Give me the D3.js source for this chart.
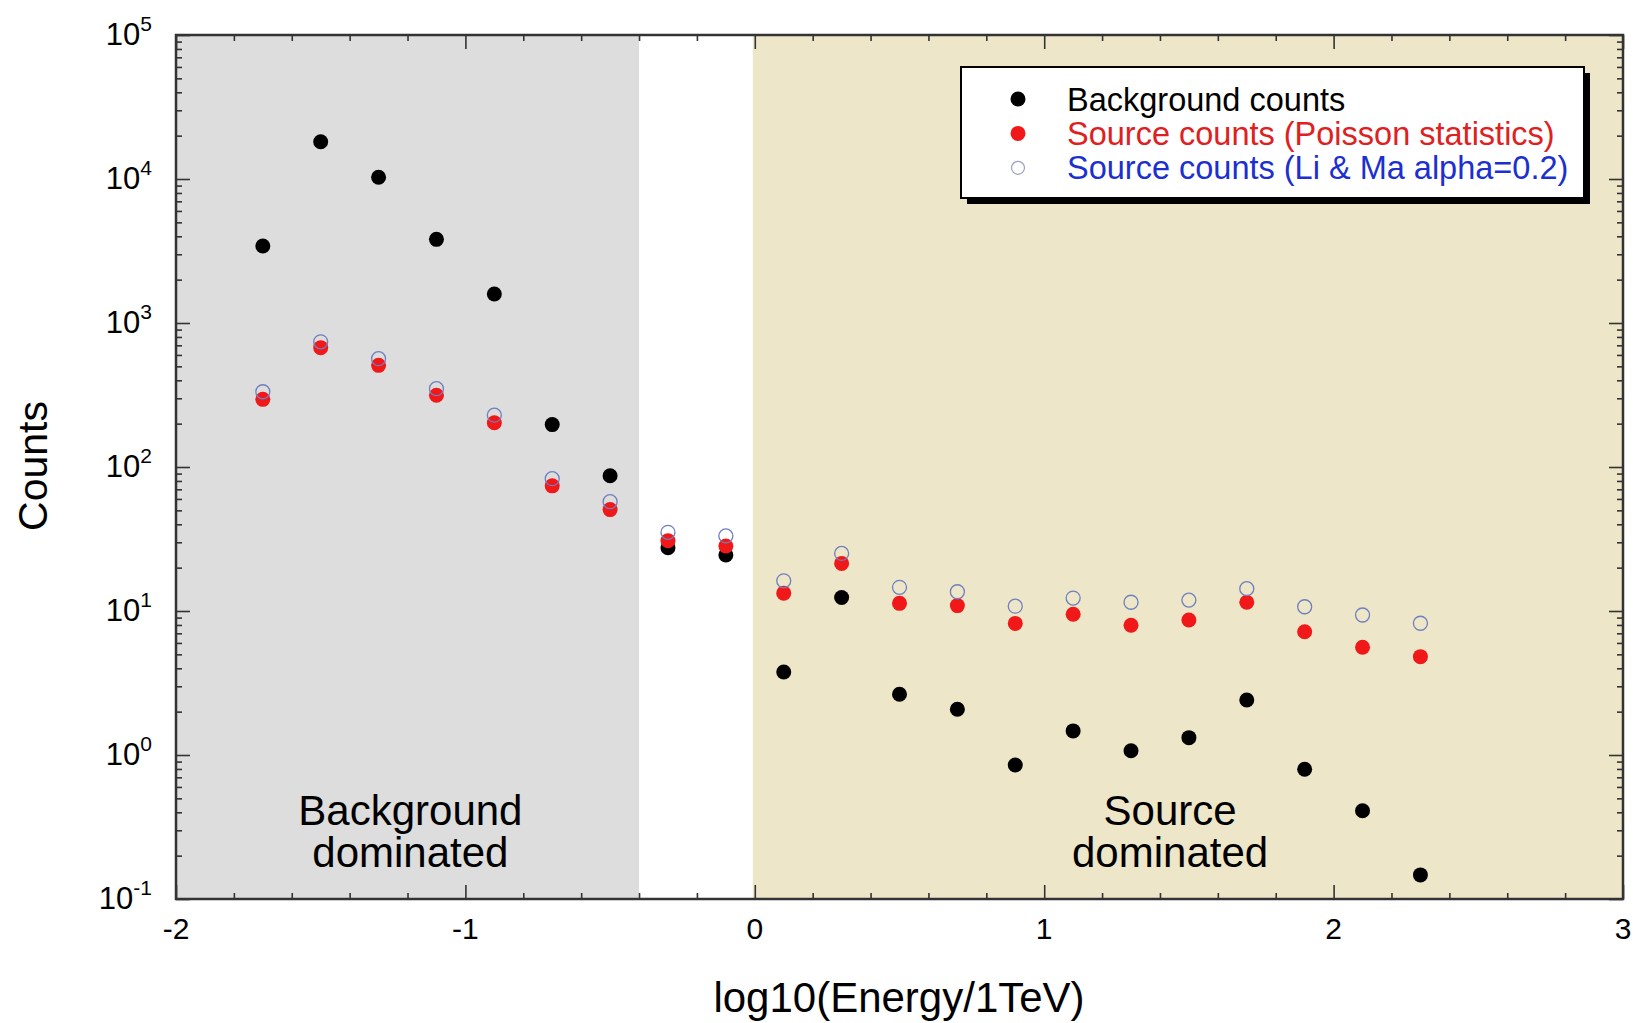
<!DOCTYPE html>
<html>
<head>
<meta charset="utf-8">
<script src="https://cdn.jsdelivr.net/npm/d3@7"></script>
<style>
  html, body { margin: 0; padding: 0; background: #ffffff; }
  svg { display: block; font-family: "Liberation Sans", Arial, Helvetica, sans-serif; }
</style>
</head>
<body>
<svg id="chart" width="1634" height="1023"></svg>
<script>
// ---------------- data ----------------
const energyBins = [-1.7, -1.5, -1.3, -1.1, -0.9, -0.7, -0.5, -0.3, -0.1, 0.1, 0.3, 0.5, 0.7, 0.9, 1.1, 1.3, 1.5, 1.7, 1.9, 2.1, 2.3];
const backgroundCounts = [3425, 18150, 10280, 3810, 1590, 197, 87, 27.5, 24.5, 3.77, 12.4, 2.64, 2.08, 0.853, 1.47, 1.07, 1.32, 2.41, 0.796, 0.41, 0.147];
const sourcePoisson = [295, 674, 508, 315, 203, 74, 50.6, 30.8, 28.3, 13.3, 21.4, 11.3, 10.9, 8.2, 9.5, 7.96, 8.66, 11.5, 7.18, 5.6, 4.82];
const sourceLiMa = [333, 740, 565, 350, 229, 83, 57.4, 35.2, 33.2, 16.2, 25.1, 14.6, 13.6, 10.8, 12.3, 11.5, 11.9, 14.3, 10.7, 9.38, 8.22];

const xTickLabels = [-2, -1, 0, 1, 2, 3];
const yDecadeExponents = [-1, 0, 1, 2, 3, 4, 5];

const regionBackground = [-2, -0.4];
const regionSource = [0, 3];
const regionTexts = [
  { x: -1.19, lines: ["Background", "dominated"] },
  { x: 1.435, lines: ["Source", "dominated"] }
];

const legendItems = [
  { label: "Background counts", kind: "bg" },
  { label: "Source counts (Poisson statistics)", kind: "poisson" },
  { label: "Source counts (Li & Ma alpha=0.2)", kind: "lima" }
];

// ---------------- layout ----------------
const L = 176, R = 1623, T = 35, B = 899;
const svg = d3.select("#chart");

const x = d3.scaleLinear().domain([-2, 3]).range([L, R]);
const y = d3.scaleLog().domain([0.1, 1e5]).range([B, T]);

const colors = {
  bg: "#000000",
  poisson: "#f01818",
  lima: "#6f7fbf",
  grayRegion: "#dcdddc",
  beigeRegion: "#ede6c8",
  axis: "#333333"
};

// regions
svg.append("rect")
  .attr("x", x(regionBackground[0])).attr("y", T)
  .attr("width", x(regionBackground[1]) - x(regionBackground[0]))
  .attr("height", B - T)
  .attr("fill", colors.grayRegion);
svg.append("rect")
  .attr("x", x(regionSource[0]) - 2).attr("y", T)
  .attr("width", x(regionSource[1]) - x(regionSource[0]) + 2)
  .attr("height", B - T)
  .attr("fill", colors.beigeRegion);

// region labels
regionTexts.forEach(rt => {
  rt.lines.forEach((ln, i) => {
    svg.append("text")
      .attr("x", x(rt.x)).attr("y", 825 + i * 41.5)
      .attr("text-anchor", "middle")
      .attr("font-size", 42)
      .attr("fill", "#000")
      .text(ln);
  });
});

// ---------------- axes ticks (inward) ----------------
const xMinor = d3.range(-2, 3.0001, 0.2).map(v => +v.toFixed(1)).filter(v => !xTickLabels.includes(v));
const yMinor = [];
yDecadeExponents.slice(0, -1).forEach(e => {
  for (let m = 2; m <= 9; m++) yMinor.push(m * Math.pow(10, e));
});
const yMajor = yDecadeExponents.map(e => Math.pow(10, e));

function styleAxis(g) {
  g.select(".domain").remove();
  g.selectAll(".tick line").attr("stroke", colors.axis).attr("stroke-width", 1.6);
  g.selectAll(".tick text").remove();
}

svg.append("g").attr("transform", `translate(0,${B})`)
  .call(d3.axisBottom(x).tickValues(xMinor).tickSize(-6).tickFormat("")).call(styleAxis);
svg.append("g").attr("transform", `translate(0,${B})`)
  .call(d3.axisBottom(x).tickValues(xTickLabels).tickSize(-14).tickFormat("")).call(styleAxis);
svg.append("g").attr("transform", `translate(0,${T})`)
  .call(d3.axisTop(x).tickValues(xMinor).tickSize(-6).tickFormat("")).call(styleAxis);
svg.append("g").attr("transform", `translate(0,${T})`)
  .call(d3.axisTop(x).tickValues(xTickLabels).tickSize(-14).tickFormat("")).call(styleAxis);

svg.append("g").attr("transform", `translate(${L},0)`)
  .call(d3.axisLeft(y).tickValues(yMinor).tickSize(-6).tickFormat("")).call(styleAxis);
svg.append("g").attr("transform", `translate(${L},0)`)
  .call(d3.axisLeft(y).tickValues(yMajor).tickSize(-14).tickFormat("")).call(styleAxis);
svg.append("g").attr("transform", `translate(${R},0)`)
  .call(d3.axisRight(y).tickValues(yMinor).tickSize(-6).tickFormat("")).call(styleAxis);
svg.append("g").attr("transform", `translate(${R},0)`)
  .call(d3.axisRight(y).tickValues(yMajor).tickSize(-14).tickFormat("")).call(styleAxis);

// frame
svg.append("rect")
  .attr("x", L).attr("y", T).attr("width", R - L).attr("height", B - T)
  .attr("fill", "none").attr("stroke", colors.axis).attr("stroke-width", 2.5);

// x tick labels
svg.append("g").selectAll("text").data(xTickLabels).join("text")
  .attr("x", d => x(d)).attr("y", 939)
  .attr("text-anchor", "middle").attr("font-size", 30).attr("fill", "#000")
  .text(d => d);

// y tick labels with superscript
const yl = svg.append("g").selectAll("text").data(yDecadeExponents).join("text")
  .attr("x", 152).attr("y", d => y(Math.pow(10, d)) + 10)
  .attr("text-anchor", "end").attr("font-size", 31).attr("fill", "#000");
yl.append("tspan").text("10");
yl.append("tspan").attr("dy", -14).attr("font-size", 21).text(d => d);

// axis titles
svg.append("text")
  .attr("x", 899).attr("y", 1012)
  .attr("text-anchor", "middle").attr("font-size", 42).attr("fill", "#000")
  .text("log10(Energy/1TeV)");
svg.append("text")
  .attr("transform", "translate(47,466) rotate(-90)")
  .attr("text-anchor", "middle").attr("font-size", 41).attr("fill", "#000")
  .text("Counts");

// ---------------- points ----------------
const rows = energyBins.map((e, i) => ({ e, bg: backgroundCounts[i], poisson: sourcePoisson[i], lima: sourceLiMa[i] }));

svg.append("g").selectAll("circle").data(rows).join("circle")
  .attr("cx", d => x(d.e)).attr("cy", d => y(d.bg)).attr("r", 7.5)
  .attr("fill", colors.bg);
svg.append("g").selectAll("circle").data(rows).join("circle")
  .attr("cx", d => x(d.e)).attr("cy", d => y(d.poisson)).attr("r", 7.5)
  .attr("fill", colors.poisson);
svg.append("g").selectAll("circle").data(rows).join("circle")
  .attr("cx", d => x(d.e)).attr("cy", d => y(d.lima)).attr("r", 7)
  .attr("fill", "none").attr("stroke", colors.lima).attr("stroke-width", 1.3);

// ---------------- legend ----------------
const lg = svg.append("g");
const lx = 961, ly = 67, lw = 623, lh = 131;
lg.append("rect").attr("x", lx + 6).attr("y", ly + 6).attr("width", lw).attr("height", lh).attr("fill", "#000");
lg.append("rect").attr("x", lx).attr("y", ly).attr("width", lw).attr("height", lh)
  .attr("fill", "#fff").attr("stroke", "#000").attr("stroke-width", 2);
const legendTextColors = { bg: "#000000", poisson: "#e0201e", lima: "#1c2fd0" };
legendItems.forEach((it, i) => {
  const cy = 99 + i * 34.4;
  if (it.kind === "lima") {
    lg.append("circle").attr("cx", 1018).attr("cy", cy).attr("r", 6.5)
      .attr("fill", "none").attr("stroke", "#9aa2c4").attr("stroke-width", 1.2);
  } else {
    lg.append("circle").attr("cx", 1018).attr("cy", cy).attr("r", 7.5)
      .attr("fill", it.kind === "bg" ? colors.bg : colors.poisson);
  }
  lg.append("text").attr("x", 1067).attr("y", cy + 11.5)
    .attr("font-size", 32.5).attr("fill", legendTextColors[it.kind]).text(it.label);
});
</script>
</body>
</html>
